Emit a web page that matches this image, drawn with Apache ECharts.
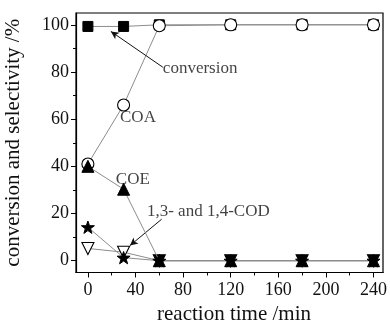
<!DOCTYPE html>
<html><head><meta charset="utf-8">
<script src="https://cdn.jsdelivr.net/npm/echarts@6/dist/echarts.min.js"></script>
<style>html,body{margin:0;padding:0;background:#fff}#c{width:390px;height:323px}</style>
</head><body><div id="c"></div>
<script>
// ---- data ----
const times = [0, 30, 60, 120, 180, 240];
const conversion = [99.3, 99.3, 100, 100, 100, 100];
const coa = [41, 66, 99.6, 100, 100, 100];
const coe = [40, 30.3, 0, 0, 0, 0];
const codStar = [14.2, 1.3, 0, 0, 0, 0];
const codOpen = [5.2, 3.6, 0, 0, 0, 0];
const xMajorTicks = [0, 40, 80, 120, 160, 200, 240];
const xMinorTicks = [20, 60, 100, 140, 180, 220];
const yMajorTicks = [0, 20, 40, 60, 80, 100];
const yMinorTicks = [10, 30, 50, 70, 90];
// annotation texts and anchor points (data units)
const noteTexts = ['conversion', 'COA', 'COE', '1,3- and 1,4-COD'];
const noteX = [63, 27, 23.5, 49.6];
const noteY = [81.5, 60.5, 34.5, 21];
// arrows: [fromX, fromY, toX, toY]
const arrowConversion = [63, 82, 19.3, 97.2];
const arrowCOD = [62, 17.6, 35.3, 6.4];

const FONT = '"Liberation Serif","Times New Roman",serif';
const pair = ys => times.map((t, i) => [t, ys[i]]);
const STAR = 'path://M0,-10 L2.35,-3.24 L9.51,-3.09 L3.8,1.24 L5.88,8.09 L0,4 L-5.88,8.09 L-3.8,1.24 L-9.51,-3.09 L-2.35,-3.24 Z';
const lineGray = {color: '#8c8c8c', width: 1};

const chart = echarts.init(document.getElementById('c'), null, {renderer: 'canvas'});
const xBase = {type: 'value', min: -10, max: 248, gridIndex: 0, position: 'bottom', splitLine: {show: false}};
const yBase = {type: 'value', min: -5, max: 105, gridIndex: 0, position: 'left', splitLine: {show: false}};
chart.setOption({
  animation: false,
  grid: {left: 76, top: 13, right: 7, bottom: 50.5, show: true, borderColor: '#000', borderWidth: 1.2, outerBoundsMode: 'none'},
  xAxis: [
    Object.assign({}, xBase, {
      axisLine: {show: true, onZero: false, lineStyle: {color: '#000', width: 1.2}},
      axisTick: {show: true, inside: false, length: 5, customValues: xMajorTicks, lineStyle: {color: '#000', width: 1}},
      axisLabel: {show: true, customValues: xMajorTicks, margin: 9, color: '#111', fontFamily: FONT, fontSize: 18},
      name: 'reaction time /min', nameLocation: 'middle', nameGap: 28,
      nameTextStyle: {fontFamily: FONT, fontSize: 21, color: '#111', padding: [0, 0, 0, 9]}
    }),
    Object.assign({}, xBase, {
      axisLine: {show: false, onZero: false},
      axisTick: {show: true, inside: false, length: 3, customValues: xMinorTicks, lineStyle: {color: '#000', width: 1}},
      axisLabel: {show: false}
    })
  ],
  yAxis: [
    Object.assign({}, yBase, {
      axisLine: {show: true, onZero: false, lineStyle: {color: '#000', width: 1.2}},
      axisTick: {show: true, inside: false, length: 5, customValues: yMajorTicks, lineStyle: {color: '#000', width: 1}},
      axisLabel: {show: true, customValues: yMajorTicks, margin: 7, color: '#111', fontFamily: FONT, fontSize: 18},
      name: 'conversion and selectivity /%', nameLocation: 'middle', nameGap: 52, nameRotate: 90,
      nameTextStyle: {fontFamily: FONT, fontSize: 21, color: '#111'}
    }),
    Object.assign({}, yBase, {
      axisLine: {show: false, onZero: false},
      axisTick: {show: true, inside: false, length: 3, customValues: yMinorTicks, lineStyle: {color: '#000', width: 1}},
      axisLabel: {show: false}
    })
  ],
  series: [
    {type: 'line', name: 'conversion', data: pair(conversion), symbol: 'rect', symbolSize: 10,
     lineStyle: lineGray, itemStyle: {color: '#000', borderColor: '#000'}, z: 2},
    {type: 'line', name: 'COA', data: pair(coa), symbol: 'circle', symbolSize: 12,
     lineStyle: lineGray, itemStyle: {color: '#fff', borderColor: '#000', borderWidth: 1.1}, z: 3},
    {type: 'line', name: 'COD open', symbol: 'triangle', symbolRotate: 180, symbolSize: 12,
     data: pair(codOpen).map(p => p[1] === 0 ? {value: p, itemStyle: {color: '#000'}} : {value: p}),
     lineStyle: lineGray, itemStyle: {color: '#fff', borderColor: '#000', borderWidth: 1.1}, z: 4},
    {type: 'line', name: 'COE', data: pair(coe), symbol: 'triangle', symbolSize: 12,
     lineStyle: lineGray, itemStyle: {color: '#000', borderColor: '#000'}, z: 5},
    {type: 'line', name: 'COD star', data: pair(codStar), symbol: STAR, symbolKeepAspect: true, symbolSize: 13,
     lineStyle: lineGray, itemStyle: {color: '#000', borderColor: '#000'}, z: 6},
    {type: 'scatter', name: 'notes', symbolSize: 0, silent: true, z: 7,
     data: noteTexts.map((t, i) => ({value: [noteX[i], noteY[i]], name: t})),
     label: {show: true, position: 'right', distance: 0, formatter: p => p.name,
             fontFamily: FONT, fontSize: 17, color: '#111', align: 'left', verticalAlign: 'middle'},
     markLine: {silent: true, symbol: ['none', 'arrow'], symbolSize: [6, 8], label: {show: false},
       lineStyle: {color: '#111', width: 1, type: 'solid'},
       data: [
         [{coord: [arrowConversion[0], arrowConversion[1]]}, {coord: [arrowConversion[2], arrowConversion[3]]}],
         [{coord: [arrowCOD[0], arrowCOD[1]]}, {coord: [arrowCOD[2], arrowCOD[3]]}]
       ]}}
  ]
});
</script></body></html>
